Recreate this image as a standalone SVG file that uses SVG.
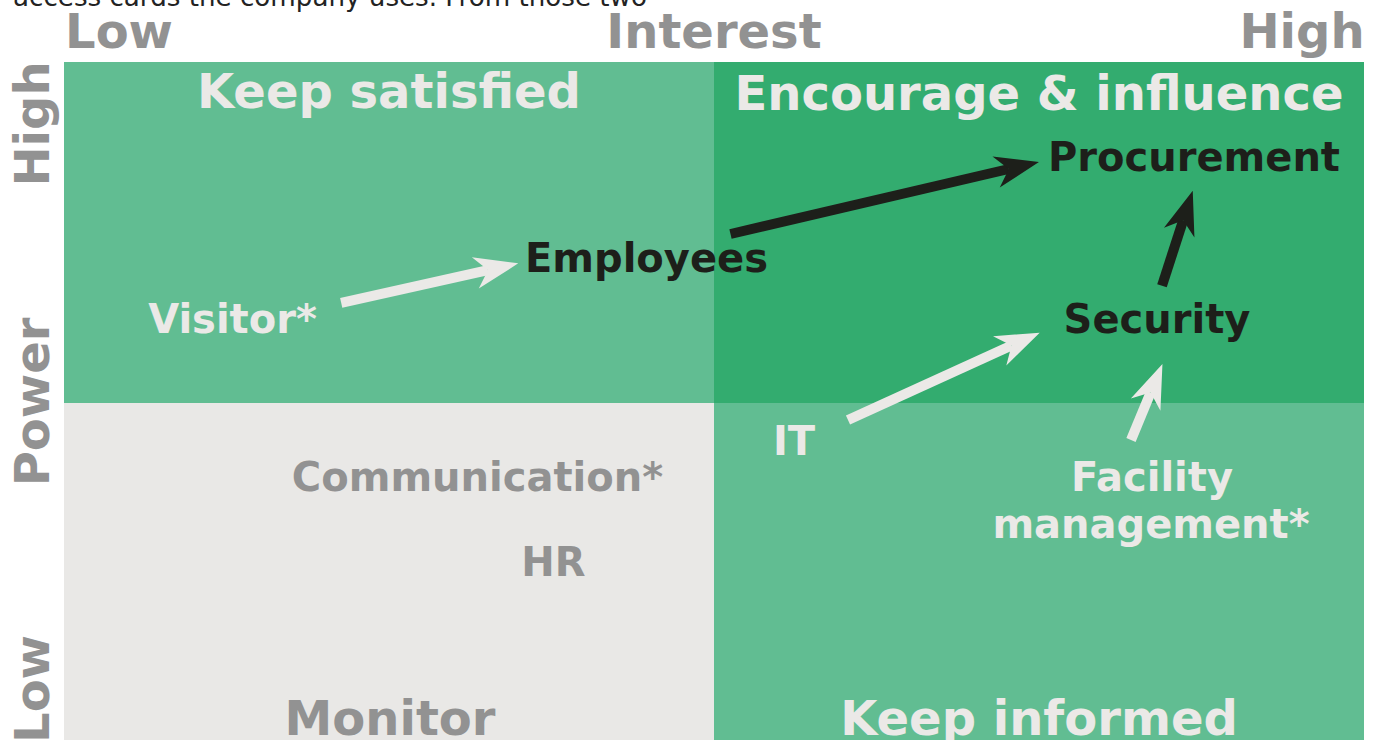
<svg xmlns="http://www.w3.org/2000/svg" width="1381" height="740" viewBox="0 0 1381 740">
<style>
text{font-family:"DejaVu Sans","Verdana",sans-serif;font-weight:bold;text-anchor:middle}
.ax{fill:#929292;font-size:48px}
.q{font-size:48px}
.lt{fill:#EBE9E7}
.gr{fill:#929292}
.dk{fill:#1D1F1A}
.n{font-size:40px}
.blk{stroke:#1D1F1A;stroke-width:10;fill:none}
.wht{stroke:#EBE9E7;stroke-width:10;fill:none}
</style>
<defs>
<marker id="hb" markerUnits="userSpaceOnUse" orient="auto" refX="0" refY="0" markerWidth="80" markerHeight="40" overflow="visible">
<path d="M31,0 L-13,-16 L0,0 L-13,16 Z" fill="#1D1F1A"/>
</marker>
<marker id="hw" markerUnits="userSpaceOnUse" orient="auto" refX="0" refY="0" markerWidth="80" markerHeight="40" overflow="visible">
<path d="M31,0 L-13,-16 L0,0 L-13,16 Z" fill="#EBE9E7"/>
</marker>
</defs>
<rect width="1381" height="740" fill="#FFFFFF"/>
<text x="13" y="6" style="font-weight:normal;text-anchor:start;font-size:26px;fill:#232323" textLength="634" lengthAdjust="spacingAndGlyphs">access cards the company uses. From those two</text>
<g id="quadrants">
<rect id="q-keep-satisfied" x="64" y="62" width="650" height="341" fill="#61BD92"/>
<rect id="q-encourage" x="714" y="62" width="650" height="341" fill="#33AC6F"/>
<rect id="q-monitor" x="64" y="403" width="650" height="337" fill="#E9E8E6"/>
<rect id="q-keep-informed" x="714" y="403" width="650" height="337" fill="#61BD92"/>
</g>
<g id="axes">
<text class="ax" x="119" y="48">Low</text>
<text class="ax" x="714" y="48">Interest</text>
<text class="ax" x="1302" y="48">High</text>
<text class="ax" transform="translate(49,124) rotate(-90)">High</text>
<text class="ax" transform="translate(49,402) rotate(-90)">Power</text>
<text class="ax" transform="translate(49,689) rotate(-90)">Low</text>
</g>
<g id="quadrant-labels">
<text class="q lt" x="389" y="108">Keep satisfied</text>
<text class="q lt" x="1039" y="110">Encourage &amp; influence</text>
<text class="q gr" x="390" y="735">Monitor</text>
<text class="q lt" x="1039" y="735">Keep informed</text>
</g>
<g id="connectors">
<line class="blk" x1="730.5" y1="234" x2="1008.8" y2="169" marker-end="url(#hb)"/>
<line class="blk" x1="1162" y1="285.7" x2="1183.2" y2="220.2" marker-end="url(#hb)"/>
<line class="wht" x1="341.2" y1="302.8" x2="488" y2="270.1" marker-end="url(#hw)"/>
<line class="wht" x1="848" y1="420" x2="1011.5" y2="345.5" marker-end="url(#hw)"/>
<line class="wht" x1="1131" y1="440" x2="1150.6" y2="392.6" marker-end="url(#hw)"/>
</g>
<g id="node-procurement"><text class="n dk" x="1194" y="171">Procurement</text></g>
<g id="node-employees"><text class="n dk" x="646.5" y="272">Employees</text></g>
<g id="node-security"><text class="n dk" x="1157" y="333">Security</text></g>
<g id="node-visitor"><text class="n lt" x="232.5" y="333">Visitor*</text></g>
<g id="node-it"><text class="n lt" x="794" y="455">IT</text></g>
<g id="node-facility"><text class="n lt" x="1152" y="491">Facility</text><text class="n lt" x="1151" y="538">management*</text></g>
<g id="node-communication"><text class="n gr" x="477.5" y="491">Communication*</text></g>
<g id="node-hr"><text class="n gr" x="553.5" y="576">HR</text></g>
</svg>
